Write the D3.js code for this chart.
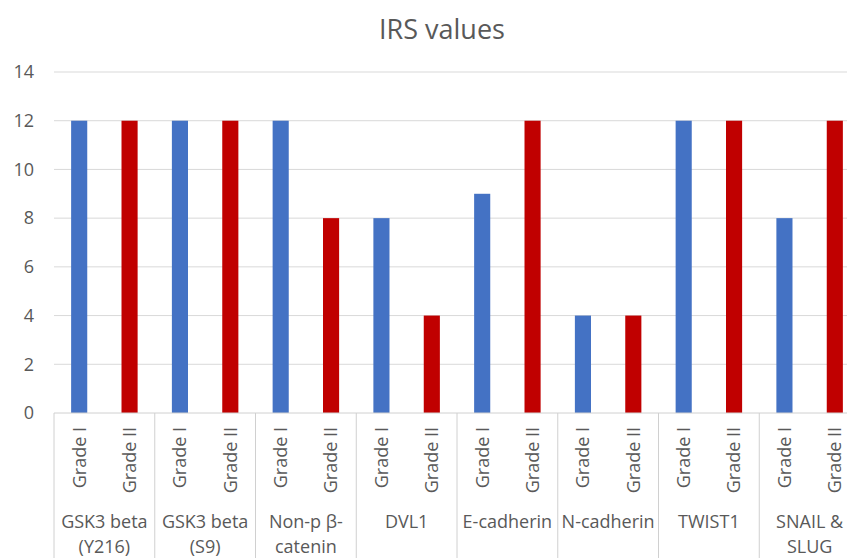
<!DOCTYPE html>
<meta charset="utf-8">
<style>
body { margin: 0; background: #fff; }
text { font-family: "Open Sans", sans-serif; fill: #595959; }
.grid line { stroke: #d9d9d9; stroke-width: 1px; }
</style>
<body>
<script src="https://d3js.org/d3.v7.min.js"></script>
<script>

// data
var groups = ["GSK3 beta\n(Y216)", "GSK3 beta\n(S9)", "Non-p β-\ncatenin", "DVL1",
              "E-cadherin", "N-cadherin", "TWIST1", "SNAIL &\nSLUG"];
var grades = ["Grade I", "Grade II"];
var gradeI  = [12, 12, 12, 8, 9, 4, 12, 8];
var gradeII = [12, 12, 8, 4, 12, 4, 12, 12];
var yTicks = [0, 2, 4, 6, 8, 10, 12, 14];
var colors = ["#4472C4", "#C00000"];

var width = 847, height = 558;
var plotLeft = 54, plotRight = 860, plotTop = 72, plotBottom = 413;

var svg = d3.select("body").append("svg")
    .attr("width", width)
    .attr("height", height);

var x0 = d3.scaleBand().domain(groups).range([plotLeft, plotRight]);
var x1 = d3.scaleBand().domain(grades).range([0, x0.bandwidth()]);
var y = d3.scaleLinear().domain([0, 14]).range([plotBottom, plotTop]);
var barW = x1.bandwidth() * 0.32;

// title
svg.append("text")
    .attr("x", 442)
    .attr("y", 39)
    .attr("text-anchor", "middle")
    .attr("font-size", "27px")
    .text("IRS values");

// gridlines
svg.append("g")
    .attr("class", "grid")
  .selectAll("line")
  .data(yTicks.slice(1))
  .enter().append("line")
    .attr("x1", plotLeft).attr("x2", plotRight)
    .attr("y1", function(d) { return y(d); })
    .attr("y2", function(d) { return y(d); });

// y labels
svg.append("g").selectAll("text")
  .data(yTicks)
  .enter().append("text")
    .attr("x", 34)
    .attr("y", function(d) { return y(d); })
    .attr("dy", "0.35em")
    .attr("text-anchor", "end")
    .attr("font-size", "18px")
    .text(function(d) { return d; });

// bars
var rows = groups.map(function(g, i) {
  return { group: g, values: [gradeI[i], gradeII[i]] };
});

var gs = svg.append("g").selectAll("g")
  .data(rows)
  .enter().append("g")
    .attr("transform", function(d) { return "translate(" + x0(d.group) + ",0)"; });

gs.selectAll("rect")
  .data(function(d) { return d.values.map(function(v, j) { return { grade: grades[j], value: v, c: colors[j] }; }); })
  .enter().append("rect")
    .attr("x", function(d) { return x1(d.grade) + (x1.bandwidth() - barW) / 2; })
    .attr("width", barW)
    .attr("y", function(d) { return y(d.value); })
    .attr("height", function(d) { return y(0) - y(d.value); })
    .attr("fill", function(d) { return d.c; });

// axis line and group separators
svg.append("line")
    .attr("x1", plotLeft).attr("x2", plotRight)
    .attr("y1", plotBottom).attr("y2", plotBottom)
    .attr("stroke", "#d0d0d0");

var seps = groups.map(function(g) { return x0(g); }).concat([plotRight]);
svg.append("g").selectAll("line")
  .data(seps)
  .enter().append("line")
    .attr("x1", function(d) { return d; }).attr("x2", function(d) { return d; })
    .attr("y1", plotBottom).attr("y2", height)
    .attr("stroke", "#d0d0d0");

// grade labels (rotated)
gs.selectAll(".grade")
  .data(grades)
  .enter().append("text")
    .attr("class", "grade")
    .attr("transform", function(d) {
      return "translate(" + (x1(d) + x1.bandwidth() / 2) + "," + (plotBottom + 14) + ") rotate(-90)";
    })
    .attr("dy", "0.35em")
    .attr("text-anchor", "end")
    .attr("font-size", "18px")
    .text(function(d) { return d; });

// group labels
gs.append("text")
    .attr("x", x0.bandwidth() / 2)
    .attr("y", 528)
    .attr("text-anchor", "middle")
    .attr("font-size", "18px")
  .selectAll("tspan")
  .data(function(d) { return d.group.split("\n"); })
  .enter().append("tspan")
    .attr("x", x0.bandwidth() / 2)
    .attr("dy", function(d, i) { return i ? 25 : 0; })
    .text(function(d) { return d; });

</script>
</body>
